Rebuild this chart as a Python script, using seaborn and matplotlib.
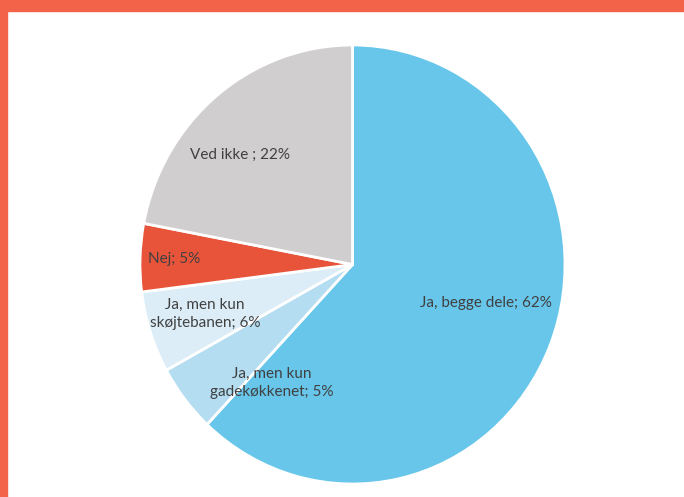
import matplotlib
matplotlib.use('Agg')
import matplotlib.pyplot as plt
import matplotlib.patches as mpatches
import numpy as np
import seaborn as sns

sns.set_theme(style='white')
plt.rcParams['font.family'] = ['Lato', 'DejaVu Sans']

# data (clockwise from 12 o'clock)
labels = ['Ja, begge dele; 62%', 'Ja, men kun\ngadekøkkenet; 5%', 'Ja, men kun\nskøjtebanen; 6%',
          'Nej; 5%', 'Ved ikke ; 22%']
shares = [62, 5, 6, 5, 22]
colors = ['#67C6EA', '#B4DDF1', '#DCEDF7', '#E8543A', '#D1CECF']

# label placement: radial distance and angle nudge (deg) from wedge middle
label_r = [0.65, 0.66, 0.73, 0.84, 0.73]
label_nudge = [6, 17, 0, 0, 7]

fig = plt.figure(figsize=(6.84, 4.97), dpi=100)
ax = fig.add_axes([140 / 684, 13 / 497, 425 / 684, 439 / 497])

wedges, _ = ax.pie(shares, colors=colors, startangle=90, counterclock=False,
                   wedgeprops=dict(edgecolor='white', linewidth=2))
ax.set_aspect('auto')
ax.set_xlim(-1, 1)
ax.set_ylim(-1, 1)

for w, lab, r, nd in zip(wedges, labels, label_r, label_nudge):
    mid = np.deg2rad((w.theta1 + w.theta2) / 2 + nd)
    ax.text(r * np.cos(mid), r * np.sin(mid), lab, ha='center', va='center',
            fontsize=11, color='#404040', linespacing=1.4)

# orange frame: top band and left bar
frame = '#F3634A'
fig.patches.append(mpatches.Rectangle((0, 1 - 11 / 497), 1, 11 / 497, transform=fig.transFigure,
                                      color=frame, zorder=5))
fig.patches.append(mpatches.Rectangle((0, 0), 7 / 684, 1, transform=fig.transFigure,
                                      color=frame, zorder=5))

fig.savefig('out.png', dpi=100)
